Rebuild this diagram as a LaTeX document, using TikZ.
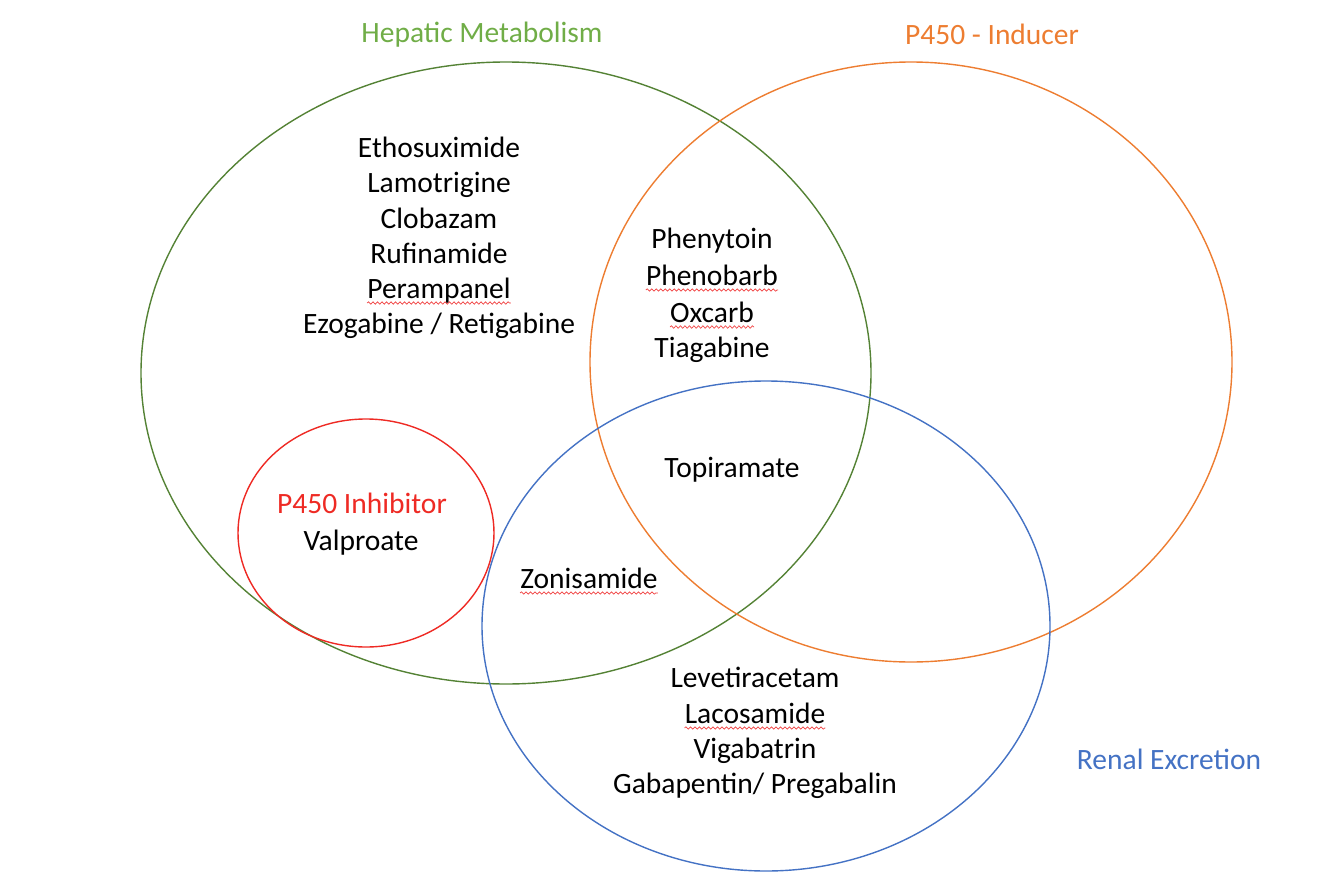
\documentclass[tikz,border=0pt]{standalone}
\usepackage{fontspec}
\setmainfont{Carlito}
\usetikzlibrary{decorations.pathmorphing}
\definecolor{hgreen}{HTML}{548235}
\definecolor{htitle}{HTML}{70AD47}
\definecolor{iorange}{HTML}{ED7D31}
\definecolor{rblue}{HTML}{4472C4}
\definecolor{pred}{HTML}{EE2A24}
\definecolor{sred}{HTML}{F04040}
\tikzset{
  ring/.style={line width=1.4pt},
  lbl/.style={inner sep=0pt, anchor=base, font=\fontsize{29.5}{35}\selectfont, text=black},
  ttl/.style={inner sep=0pt, anchor=base, font=\fontsize{29.5}{35}\selectfont},
  squig/.style={draw=sred, line width=0.7pt, decorate, decoration={snake, amplitude=1.2pt, segment length=4.5pt}}
}
\newcommand{\squiggle}[1]{\draw[squig] ([yshift=-5pt]#1.base west) -- ([yshift=-5pt]#1.base east);}
\begin{document}
\begin{tikzpicture}[x=1pt,y=-1pt]
\useasboundingbox (0,0) rectangle (1334,878);
% ellipses
\draw[ring, hgreen] (506,373) ellipse [x radius=365, y radius=311];
\draw[ring, iorange] (911,362) ellipse [x radius=321, y radius=300];
\draw[ring, rblue] (766,626) ellipse [x radius=284, y radius=245];
\draw[ring, pred] (366,533) ellipse [x radius=128, y radius=114];
% titles
\node[ttl, text=htitle] (thep) at (482,42) {Hepatic Metabolism};
\node[ttl, text=iorange] (tind) at (992,45) {P450 - Inducer};
\node[ttl, text=rblue] (tren) at (1169,769) {Renal Excretion};
% hepatic only
\node[lbl] (h1) at (439,157) {Ethosuximide};
\node[lbl] (h2) at (439,192.5) {Lamotrigine};
\node[lbl] (h3) at (439,228) {Clobazam};
\node[lbl] (h4) at (439,263) {Rufinamide};
\node[lbl] (h5) at (439,298) {Perampanel};
\node[lbl] (h6) at (439,333) {Ezogabine / Retigabine};
% hepatic + inducer
\node[lbl] (i1) at (712,248) {Phenytoin};
\node[lbl] (i2) at (712,285) {Phenobarb};
\node[lbl] (i3) at (712,322) {Oxcarb};
\node[lbl] (i4) at (712,357) {Tiagabine};
% all three
\node[lbl] (t1) at (732,477) {Topiramate};
% inhibitor
\node[ttl, text=pred] (v0) at (362,513) {P450 Inhibitor};
\node[lbl] (v1) at (361,550) {Valproate};
% hepatic + renal
\node[lbl] (z1) at (589,588) {Zonisamide};
% renal only
\node[lbl] (r1) at (755,687) {Levetiracetam};
\node[lbl] (r2) at (755,723) {Lacosamide};
\node[lbl] (r3) at (755,758) {Vigabatrin};
\node[lbl] (r4) at (755,793) {Gabapentin/ Pregabalin};
% spell-check underlines
\squiggle{h5}
\squiggle{i2}
\squiggle{i3}
\squiggle{z1}
\squiggle{r2}
\end{tikzpicture}
\end{document}
